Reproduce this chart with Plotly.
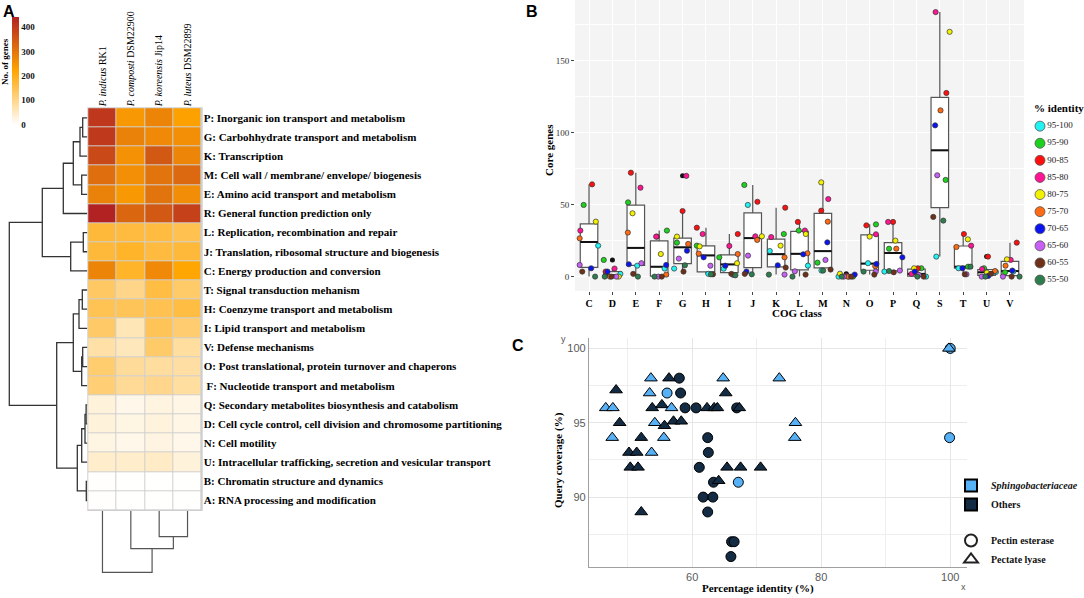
import numpy as np
import plotly.graph_objects as go

W, H = 1084, 598
def fx(px): return px / W
def fy(py): return 1 - py / H

SERIF = "Liberation Serif"
SANS = "Liberation Sans"

# ------------------------------------------------------------------ Panel A data
cog_codes = ["P", "G", "K", "M", "E", "R", "L", "J", "C", "T", "H", "I", "V", "O", "F",
             "Q", "D", "N", "U", "B", "A"]
cog_names = [
    "P: Inorganic ion transport and metabolism",
    "G: Carbohhydrate transport and metabolism",
    "K: Transcription",
    "M: Cell wall / membrane/ envelope/ biogenesis",
    "E: Amino acid transport and metabolism",
    "R: General function prediction only",
    "L: Replication, recombination and repair",
    "J: Translation, ribosomal structure and biogenesis",
    "C: Energy production and conversion",
    "T: Signal transduction mehanism",
    "H: Coenzyme transport and metabolism",
    "I: Lipid transport and metabolism",
    "V: Defense mechanisms",
    "O: Post translational, protein turnover and chaperons",
    "\u00a0F: Nucleotide transport and metabolism",
    "Q: Secondary metabolites biosynthesis and catabolism",
    "D: Cell cycle control, cell division and chromosome partitioning",
    "N: Cell motility",
    "U: Intracellular trafficking, secretion and vesicular transport",
    "B: Chromatin structure and dynamics",
    "A: RNA processing and modification",
]
genomes = ["<i>P. indicus</i> RK1", "<i>P. composti</i> DSM22900",
           "<i>P. koreensis</i> Jip14", "<i>P. luteus</i> DSM22899"]
genes_indicus = [406, 404, 377, 314, 280, 442, 171, 171, 276, 135, 148, 132, 76, 126, 120, 31, 31, 24, 44, 2, 2]
genes_composti = [241, 280, 254, 258, 241, 326, 166, 185, 185, 102, 146, 62, 58, 88, 90, 18, 24, 18, 44, 1, 1]
genes_koreensis = [276, 268, 350, 304, 304, 350, 165, 166, 268, 162, 152, 146, 131, 84, 100, 28, 29, 26, 50, 1, 1]
genes_luteus = [227, 258, 275, 322, 261, 390, 152, 171, 218, 131, 162, 125, 82, 80, 82, 22, 22, 18, 31, 1, 1]
colorbar_ticks = [0, 100, 200, 300, 400]

# hierarchical clustering merges: (node_a, node_b, merge height)
row_merges = [(0, 1, 4.6), (21, 2, 7.3), (3, 4, 5.6), (22, 23, 14), (24, 5, 24),
              (6, 7, 4), (26, 8, 16.6), (25, 27, 45), (9, 10, 5), (29, 11, 8.3),
              (12, 13, 4.6), (31, 14, 5.6), (30, 32, 14), (15, 16, 1.2), (34, 17, 2.3),
              (35, 18, 5.6), (19, 20, 1), (36, 37, 10), (33, 38, 30.6), (28, 39, 78)]
col_merges = [(2, 3, 25.7), (1, 4, 37.7), (0, 5, 61.3)]

# ------------------------------------------------------------------ Panel B data
cog_classes = ["C", "D", "E", "F", "G", "H", "I", "J", "K", "L", "M", "N", "O", "P", "Q", "S", "T", "U", "V"]
identity_bins = ["95-100", "95-90", "90-85", "85-80", "80-75", "75-70", "70-65", "65-60", "60-55", "55-50"]
core_95_100 = [21.5, 1.9, 7.6, 5.6, 5.6, 1.9, 5.5, 49.8, 17.8, 7.6, 4.2, 0, 9.3, 3.5, 0, 13.9, 5.8, 3.2, 3.5]
core_90_95 = [49.8, 11.6, 51.6, 32, 23.6, 21.5, 13.4, 63.7, 29.6, 32, 9.7, 0, 36.3, 19.4, 5.8, 67.2, 6.9, 5.8, 3]
core_85_90 = [64.1, 3.5, 72.2, 27.8, 45.6, 34, 29.6, 52, 47.9, 38, 45.8, 0, 35.6, 38, 5.8, 127.6, 29.6, 13.9, 23.6]
core_80_85 = [32, 5.6, 61.8, 27.8, 70, 29.6, 21.3, 28, 27.5, 32, 53.9, 0.5, 29.4, 38, 1.9, 183.8, 21.5, 5.3, 11.6]
core_75_80 = [38.2, 0, 44, 15.7, 27.8, 21, 9.3, 28, 21.5, 29.6, 65.5, 2, 27.8, 25, 5.8, 170.1, 25.9, 2.8, 12]
core_70_75 = [26.6, 0, 30.6, 1.4, 22.7, 16, 15.7, 25.5, 13.4, 16.2, 38.2, 0, 7.2, 19.4, 1.9, 115.5, 20.6, 3.9, 7.6]
core_65_70 = [5.8, 3.5, 8.6, 8.1, 18, 13.4, 7.6, 3.5, 7.9, 15.5, 23.8, 1.4, 8.8, 13.4, 3.5, 105.1, 5.8, 0.5, 4.2]
core_60_65 = [8.1, 0, 9.3, 0, 12.5, 7.6, 1.2, 14.6, 1.4, 3.7, 11.6, 0, 3.5, 4.2, 1.2, 70.4, 1.6, 0, 0]
core_55_60 = [3.5, 0, 1.9, 0, 3.5, 1.6, 1.9, 1.9, 6.3, 1.4, 4.9, 0, 1.4, 3, 0, 41.5, 1.6, 2, 0]
core_50_55 = [0, 0, 0, 0, 7.9, 1.6, 0.9, 1.6, 1.4, 0, 4.2, 0, 3.5, 3.9, 0, 38.9, 6.9, 0, 0]

# horizontal jitter of each point (category units)
jit_95_100 = [.39, .34, .06, .23, -.36, .10, -.24, -.21, -.27, .36, -.06, -.33, -.07, -.37, .41, -.15, -.20, .40, .14]
jit_90_95 = [-.23, -.37, -.33, .33, -.24, -.39, -.43, -.36, .33, -.03, -.23, .29, .27, -.17, .21, .25, .21, -.11, -.21]
jit_85_90 = [.13, -.29, -.21, -.10, 0, -.39, .36, .20, .39, -.07, -.07, .11, -.14, 0, .06, .28, .03, .06, .29]
jit_80_85 = [-.37, .09, .20, -.13, .16, -.14, 0, .11, -.21, .23, .23, 0, .27, -.21, -.21, -.18, .34, -.19, .03]
jit_75_80 = [.29, .27, -.14, .07, -.24, -.27, .33, .39, .19, .27, -.07, -.27, 0, .10, -.10, .42, .20, .01, -.13]
jit_70_75 = [-.40, -.11, -.34, .30, .24, -.31, .36, .19, .36, .34, .21, .07, .24, .14, .03, .03, -.29, .36, -.19]
jit_65_70 = [.09, -.21, -.30, .30, .19, -.10, -.17, -.27, .07, .16, .19, .36, .29, .40, -.07, -.20, -.03, .07, .10]
jit_60_65 = [-.40, .17, .24, -.04, -.16, .19, .17, -.20, .36, -.20, .11, -.10, .26, .29, .10, -.11, .14, -.21, -.30]
jit_55_60 = [-.29, -.04, -.11, .11, .04, .30, .09, -.34, .41, .26, .33, .21, .20, .03, .31, -.28, .07, .19, .07]
jit_50_55 = [.26, -.33, .09, -.20, .10, .21, .26, -.04, -.31, -.30, .01, -.19, -.26, -.17, .04, .15, .31, -.05, .41]

# ------------------------------------------------------------------ Panel C data
sph_est_identity = [56.1, 67.15, 99.9, 100.0]
sph_est_coverage = [97.0, 91.0, 94.0, 100.0]
sph_lya_identity = [53.6, 53.4, 46.6, 47.7, 56.8, 54.2, 47.6, 55.6, 53.7, 64.8, 73.5, 76.0, 75.9, 99.8]
sph_lya_coverage = [98, 97, 96, 96, 96, 95, 94, 94, 93, 98, 98, 95, 94, 100]
oth_est_identity = [58.0, 58.2, 58.9, 60.6, 66.9, 62.4, 62.5, 61.1, 63.3, 61.7, 63.2, 62.4, 66.1, 66.5, 66.0]
oth_est_coverage = [98, 97, 96, 96, 96, 94, 93, 92, 91, 90, 90, 89, 87, 87, 86]
oth_lya_identity = [48.2, 48.75, 56.4, 53.8, 55.3, 55.7, 57.1, 58.3, 52.1, 50.2, 51.4, 50.4, 51.6,
                    52.1, 62.3, 63.4, 63.9, 65.2, 67.3, 65.4, 67.5, 70.6, 64.1]
oth_lya_coverage = [97.2, 95.0, 98, 96, 96.2, 94.8, 95.1, 95.1, 94, 93, 93, 92, 92,
                    89, 96, 96, 96, 97, 96, 92, 92, 92, 91.1]

# ------------------------------------------------------------------ styles
bin_colors = ["#22F2F2", "#1FD11F", "#FF1010", "#FF1493", "#F2F200", "#FF6A14",
              "#0A14F0", "#C860F5", "#6E3018", "#2E7D4F"]
LIGHT, DARK = "#56B1F7", "#132B43"
DENDRO = "#333333"

fig = go.Figure()

# ============================== Panel A ==============================
z = np.column_stack([genes_indicus, genes_composti, genes_koreensis, genes_luteus])
fig.add_trace(go.Heatmap(
    z=z, x=list(range(len(genomes))), y=list(range(len(cog_codes))),
    zmin=0, zmax=float(z.max()), xgap=1, ygap=1,
    colorscale=[[0, "#FFFFFF"], [0.5, "#FFA500"], [1, "#B22222"]],
    xaxis="x", yaxis="y", hoverinfo="skip",
    colorbar=dict(x=fx(12.3), xanchor="left", y=fy(16.7), yanchor="top",
                  len=108, lenmode="pixels", thickness=7, thicknessmode="pixels",
                  outlinewidth=0, tickvals=colorbar_ticks, ticks="", xpad=0, ypad=0,
                  tickfont=dict(family=SERIF, size=9, color="#111", weight="bold")),
))

def dendro_lines(n_leaves, merges):
    pos = [float(i) for i in range(n_leaves)]
    hgt = [0.0] * n_leaves
    hs, ps = [], []
    for a, b, h in merges:
        hs += [hgt[a], h, h, hgt[b], None]
        ps += [pos[a], pos[a], pos[b], pos[b], None]
        pos.append((pos[a] + pos[b]) / 2)
        hgt.append(h)
    return hs, ps

rh, rp = dendro_lines(len(cog_codes), row_merges)
fig.add_trace(go.Scatter(x=rh, y=rp, mode="lines", line=dict(color=DENDRO, width=1.3),
                         xaxis="x2", yaxis="y", showlegend=False, hoverinfo="skip"))
ch, cp = dendro_lines(len(genomes), col_merges)
fig.add_trace(go.Scatter(x=cp, y=ch, mode="lines", line=dict(color="#555555", width=1.2),
                         xaxis="x", yaxis="y2", showlegend=False, hoverinfo="skip"))

# ============================== Panel B ==============================
core_by_bin = [core_95_100, core_90_95, core_85_90, core_80_85, core_75_80,
               core_70_75, core_65_70, core_60_65, core_55_60, core_50_55]
jit_by_bin = [jit_95_100, jit_90_95, jit_85_90, jit_80_85, jit_75_80,
              jit_70_75, jit_65_70, jit_60_65, jit_55_60, jit_50_55]
vals = np.array(core_by_bin, dtype=float)
idx = np.arange(len(cog_classes))
q1 = np.percentile(vals, 25, axis=0)
med = np.percentile(vals, 50, axis=0)
q3 = np.percentile(vals, 75, axis=0)
iqr = q3 - q1
lo_fence, hi_fence = q1 - 1.5 * iqr, q3 + 1.5 * iqr
lower, upper, out_x, out_y = [], [], [], []
for j in idx:
    col = vals[:, j]
    inside = col[(col >= lo_fence[j]) & (col <= hi_fence[j])]
    lower.append(inside.min())
    upper.append(inside.max())
    for v in col[(col < lo_fence[j]) | (col > hi_fence[j])]:
        out_x.append(j)
        out_y.append(v)

BOXW = 0.75
fig.add_trace(go.Box(x=idx, q1=q1, median=med, q3=q3, lowerfence=lower, upperfence=upper,
                     width=BOXW, fillcolor="white", line=dict(color="#555555", width=1.2),
                     whiskerwidth=0, boxpoints=False, xaxis="x3", yaxis="y3",
                     showlegend=False, hoverinfo="skip"))
mx, my = [], []
for j in idx:
    mx += [j - BOXW / 2, j + BOXW / 2, None]
    my += [med[j], med[j], None]
fig.add_trace(go.Scatter(x=mx, y=my, mode="lines", line=dict(color="#111111", width=2),
                         xaxis="x3", yaxis="y3", showlegend=False, hoverinfo="skip"))
fig.add_trace(go.Scatter(x=out_x, y=out_y, mode="markers",
                         marker=dict(color="#111111", size=5),
                         xaxis="x3", yaxis="y3", showlegend=False, hoverinfo="skip"))
for b, name in enumerate(identity_bins):
    fig.add_trace(go.Scatter(
        x=idx + np.array(jit_by_bin[b]), y=core_by_bin[b], mode="markers", name=name,
        marker=dict(color=bin_colors[b], size=5.2, line=dict(color="#333333", width=0.7)),
        xaxis="x3", yaxis="y3", showlegend=False, hoverinfo="skip"))

# legend of panel B: one key per identity bin, drawn on its own small axis
fig.add_trace(go.Scatter(
    x=[0] * len(identity_bins), y=list(range(len(identity_bins))), mode="markers+text",
    text=identity_bins, textposition="middle right",
    textfont=dict(family=SERIF, size=9, color="#222"),
    marker=dict(color=bin_colors, size=10, line=dict(color="#555555", width=0.8)),
    xaxis="x5", yaxis="y5", showlegend=False, hoverinfo="skip", cliponaxis=False))

# ============================== Panel C ==============================
def pts(x, y, sym, color, size):
    return go.Scatter(x=x, y=y, mode="markers",
                      marker=dict(symbol=sym, size=size, color=color, line=dict(color="black", width=1)),
                      xaxis="x4", yaxis="y4", showlegend=False, hoverinfo="skip")

fig.add_trace(pts(oth_est_identity, oth_est_coverage, "circle", DARK, 10))
fig.add_trace(pts(sph_est_identity, sph_est_coverage, "circle", LIGHT, 10))
fig.add_trace(pts(oth_lya_identity, oth_lya_coverage, "triangle-up", DARK, 11))
fig.add_trace(pts(sph_lya_identity, sph_lya_coverage, "triangle-up", LIGHT, 11))

for name, col in [("<b><i>Sphingobacteriaceae</i></b>", LIGHT), ("<b>Others</b>", DARK)]:
    fig.add_trace(go.Scatter(x=[None], y=[None], mode="markers", name=name,
                             marker=dict(symbol="square", color=col, line=dict(color="black", width=1)),
                             xaxis="x4", yaxis="y4", legend="legend2"))
for name, sym in [("<b>Pectin esterase</b>", "circle-open"), ("<b>Pectate lyase</b>", "triangle-up-open")]:
    fig.add_trace(go.Scatter(x=[None], y=[None], mode="markers", name=name,
                             marker=dict(symbol=sym, color="#222222", line=dict(width=1.2)),
                             xaxis="x4", yaxis="y4", legend="legend3"))

# ============================== Layout ==============================
hidden = dict(visible=False, showgrid=False, zeroline=False, showticklabels=False)
nrow, ncol = len(cog_codes), len(genomes)

def ann(text, px, py, size, family=SERIF, bold=True, angle=0, xanchor="center",
        yanchor="middle", color="black"):
    return dict(text=text, x=fx(px), y=fy(py), xref="paper", yref="paper", showarrow=False,
                xanchor=xanchor, yanchor=yanchor, textangle=angle,
                font=dict(family=family, size=size, color=color, weight="bold" if bold else "normal"))

fig.update_layout(
    width=W, height=H, margin=dict(l=0, r=0, t=0, b=0),
    paper_bgcolor="white", plot_bgcolor="white",
    # heatmap
    xaxis=dict(domain=[fx(87.3), fx(202.7)], range=[-0.535, ncol - 0.465], anchor="y",
               side="top", tickvals=list(range(ncol)), ticktext=genomes, tickangle=-90,
               ticks="", showgrid=False, zeroline=False,
               tickfont=dict(family=SERIF, size=10, color="black")),
    yaxis=dict(domain=[fy(511), fy(107.3)], range=[nrow - 0.45, -0.55], anchor="x",
               side="right", tickvals=list(range(nrow)), ticktext=cog_names,
               ticks="", showgrid=False, zeroline=False,
               tickfont=dict(family=SERIF, size=11, color="black", weight="bold")),
    xaxis2=dict(domain=[0, fx(87.3)], range=[87.3, 0], anchor="y", **hidden),
    yaxis2=dict(domain=[fy(574), fy(511)], range=[63, 0], anchor="x", **hidden),
    # panel B
    xaxis3=dict(domain=[fx(575), fx(1024)], range=[-0.6, len(cog_classes) - 0.4], anchor="y3",
                tickvals=list(idx), ticktext=cog_classes, ticks="outside", ticklen=3,
                tickcolor="#444", tickwidth=0.8, showgrid=True, gridcolor="white", gridwidth=1,
                zeroline=False, showline=False,
                tickfont=dict(family=SERIF, size=10, color="black", weight="bold")),
    yaxis3=dict(domain=[fy(291), fy(0)], range=[-10, 192.2], anchor="x3",
                tickvals=[0, 50, 100, 150], ticks="outside", ticklen=3, tickcolor="#444",
                tickwidth=0.8, showgrid=True, gridcolor="white", gridwidth=1, zeroline=False,
                minor=dict(tickvals=[25, 75, 125, 175], showgrid=True, gridcolor="white", gridwidth=0.5),
                tickfont=dict(family=SERIF, size=9, color="#333")),
    # legend axis of panel B (x: 10 px per unit, y: one row per bin)
    xaxis5=dict(domain=[fx(1035), fx(1084)], range=[-0.5, 4.4], anchor="y5", **hidden),
    yaxis5=dict(domain=[fy(288.6), fy(117.6)], range=[9.5, -0.5], anchor="x5", **hidden),
    # panel C
    xaxis4=dict(domain=[fx(589), fx(967)], range=[44, 102.6], anchor="y4",
                tickvals=[60, 80, 100], ticks="", showgrid=True, gridcolor="#E6E6E6", gridwidth=1,
                minor=dict(tickvals=[50, 70, 90], showgrid=True, gridcolor="#EEEEEE", gridwidth=1),
                zeroline=False, showline=True, linecolor="#A0A0A0", linewidth=1.3,
                tickfont=dict(family=SANS, size=11, color="#5A5A5A")),
    yaxis4=dict(domain=[fy(567), fy(338)], range=[85.3, 100.7], anchor="x4",
                tickvals=[90, 95, 100], ticks="", showgrid=True, gridcolor="#E6E6E6", gridwidth=1,
                minor=dict(tickvals=[87.5, 92.5, 97.5], showgrid=True, gridcolor="#EEEEEE", gridwidth=1),
                zeroline=False, showline=True, linecolor="#A0A0A0", linewidth=1.3,
                tickfont=dict(family=SANS, size=11, color="#5A5A5A")),
    legend2=dict(x=fx(951), y=fy(471), xanchor="left", yanchor="top", itemsizing="constant",
                 bgcolor="rgba(0,0,0,0)", font=dict(family=SERIF, size=10, color="#111")),
    legend3=dict(x=fx(951), y=fy(526), xanchor="left", yanchor="top", itemsizing="constant",
                 bgcolor="rgba(0,0,0,0)", font=dict(family=SERIF, size=10, color="#111")),
    shapes=[
        dict(type="rect", xref="x domain", yref="y domain", x0=0, x1=1, y0=0, y1=1,
             fillcolor="#CFCFCF", line=dict(width=0), layer="below"),
        dict(type="rect", xref="x3 domain", yref="y3 domain", x0=0, x1=1, y0=0, y1=1,
             fillcolor="#F4F4F4", line=dict(width=0), layer="below"),
    ],
    annotations=[
        ann("A", 9, 0.5, 16, family=SANS, yanchor="top"),
        ann("B", 531.7, 0.5, 16, family=SANS, yanchor="top"),
        ann("C", 518, 335, 16, family=SANS, yanchor="top"),
        ann("No. of genes", 5, 62, 9, angle=-90),
        ann("Core genes", 549, 150, 11, angle=-90),
        ann("COG class", 797, 313, 11),
        ann("% identity", 1032, 108, 11, xanchor="left"),
        ann("Query coverage (%)", 558, 460, 11, angle=-90),
        ann("Percentage identity (%)", 758, 588, 11),
        ann("y", 563, 339, 9, family=SANS, bold=False, color="#555"),
        ann("x", 964, 587, 9, family=SANS, bold=False, color="#555"),
    ],
)

# remove the browser's default 8px page margin so the 1084x598 figure fills the window
fig.write_html("out.html", config={"displayModeBar": False},
               post_script="document.body.style.margin='0px';")
